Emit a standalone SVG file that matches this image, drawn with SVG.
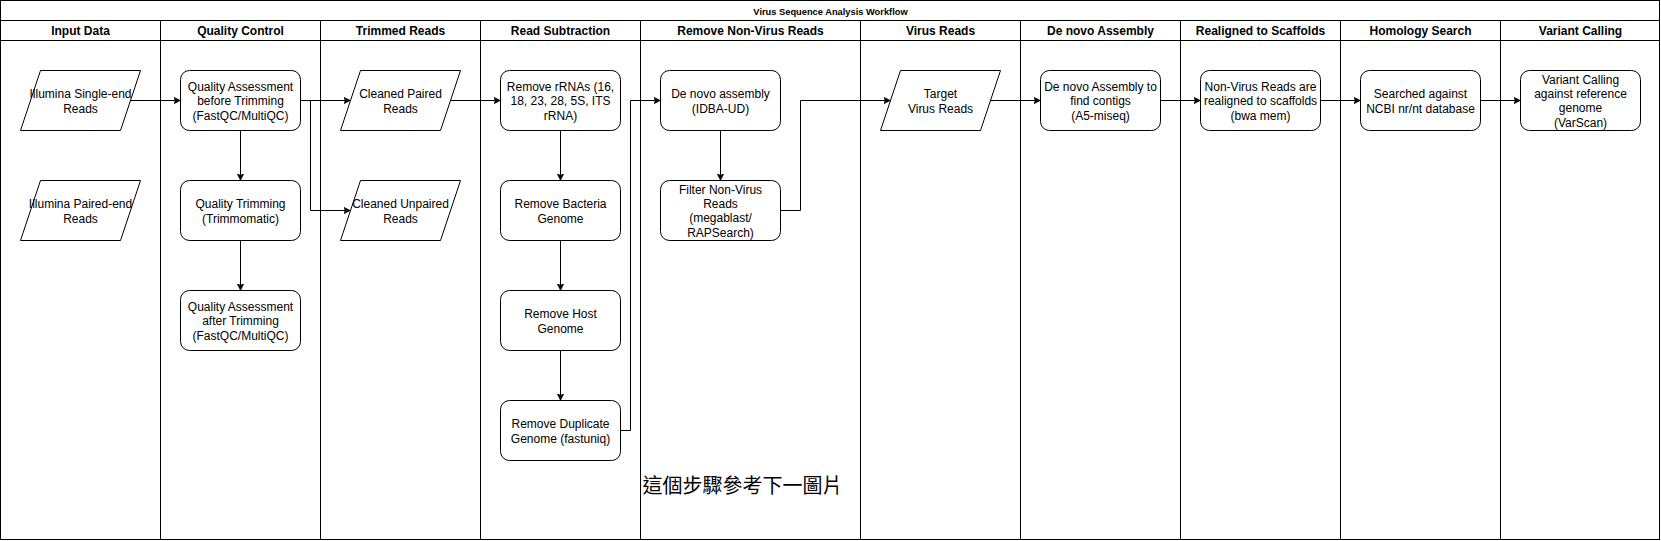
<svg xmlns="http://www.w3.org/2000/svg" width="1661" height="541" viewBox="0 0 1661 541">
<defs>
<style>
.ln{fill:none;stroke:#000;stroke-width:1}
.box{fill:#fff;stroke:#000;stroke-width:1}
.t{font-family:"Liberation Sans",Arial,Helvetica,sans-serif;font-size:12px;fill:#000;text-anchor:middle}
.h{font-family:"Liberation Sans",Arial,Helvetica,sans-serif;font-size:12px;font-weight:bold;fill:#000;text-anchor:middle}
.title{font-family:"Liberation Sans",Arial,Helvetica,sans-serif;font-size:9.3px;font-weight:bold;fill:#000;text-anchor:middle}
.cjk{font-family:"Liberation Sans","Noto Sans CJK TC",sans-serif;font-size:20px;fill:#000}
.edge{fill:none;stroke:#000;stroke-width:1;marker-end:url(#arr)}
</style>
<marker id="arr" viewBox="0 0 8 8" markerWidth="8" markerHeight="8" refX="7" refY="4" orient="auto" markerUnits="userSpaceOnUse">
<path d="M0,0.5 L7,4 L0,7.5 L1.75,4 Z" fill="#000" stroke="#000" stroke-width="0.5"/>
</marker>
</defs>
<g transform="translate(0.5,0.5)">
<g id="pool">
<rect x="0" y="0" width="1659" height="539" fill="#fff" stroke="#000"/>
<line class="ln" x1="0" y1="20" x2="1659" y2="20"/>
<line class="ln" x1="0" y1="40" x2="1659" y2="40"/>
<text class="title" x="830" y="14.5">Virus Sequence Analysis Workflow</text>
</g>
<g id="lanes">
<line class="ln" x1="160" y1="20" x2="160" y2="539"/>
<line class="ln" x1="320" y1="20" x2="320" y2="539"/>
<line class="ln" x1="480" y1="20" x2="480" y2="539"/>
<line class="ln" x1="640" y1="20" x2="640" y2="539"/>
<line class="ln" x1="860" y1="20" x2="860" y2="539"/>
<line class="ln" x1="1020" y1="20" x2="1020" y2="539"/>
<line class="ln" x1="1180" y1="20" x2="1180" y2="539"/>
<line class="ln" x1="1340" y1="20" x2="1340" y2="539"/>
<line class="ln" x1="1500" y1="20" x2="1500" y2="539"/>
<text class="h" x="80" y="34.5">Input Data</text>
<text class="h" x="240" y="34.5">Quality Control</text>
<text class="h" x="400" y="34.5">Trimmed Reads</text>
<text class="h" x="560" y="34.5">Read Subtraction</text>
<text class="h" x="750" y="34.5">Remove Non-Virus Reads</text>
<text class="h" x="940" y="34.5">Virus Reads</text>
<text class="h" x="1100" y="34.5">De novo Assembly</text>
<text class="h" x="1260" y="34.5">Realigned to Scaffolds</text>
<text class="h" x="1420" y="34.5">Homology Search</text>
<text class="h" x="1580" y="34.5">Variant Calling</text>
</g>
<g id="connectors">
<path class="edge" d="M129,100 L180,100"/>
<path class="edge" d="M240,130 L240,180"/>
<path class="edge" d="M240,240 L240,290"/>
<path class="edge" d="M300,100 L350,100"/>
<path class="edge" d="M300,100 L310,100 L310,210 L350,210"/>
<path class="edge" d="M449,100 L500,100"/>
<path class="edge" d="M560,130 L560,180"/>
<path class="edge" d="M560,240 L560,290"/>
<path class="edge" d="M560,350 L560,400"/>
<path class="edge" d="M620,430 L630,430 L630,100 L660,100"/>
<path class="edge" d="M720,130 L720,180"/>
<path class="edge" d="M780,210 L800,210 L800,100 L890,100"/>
<path class="edge" d="M989,100 L1040,100"/>
<path class="edge" d="M1160,100 L1200,100"/>
<path class="edge" d="M1320,100 L1360,100"/>
<path class="edge" d="M1480,100 L1520,100"/>
</g>
<g id="n-illumina-single">
<polygon class="box" points="40,70 140,70 120,130 20,130"/>
<text class="t" x="80" y="97.6">Illumina Single-end</text>
<text class="t" x="80" y="112">Reads</text>
</g>
<g id="n-illumina-paired">
<polygon class="box" points="40,180 140,180 120,240 20,240"/>
<text class="t" x="80" y="207.6">Illumina Paired-end</text>
<text class="t" x="80" y="222">Reads</text>
</g>
<g id="n-qa-before">
<rect class="box" x="180" y="70" width="120" height="60" rx="9"/>
<text class="t" x="240" y="90.2">Quality Assessment</text>
<text class="t" x="240" y="104.6">before Trimming</text>
<text class="t" x="240" y="119">(FastQC/MultiQC)</text>
</g>
<g id="n-trimming">
<rect class="box" x="180" y="180" width="120" height="60" rx="9"/>
<text class="t" x="240" y="207.6">Quality Trimming</text>
<text class="t" x="240" y="222">(Trimmomatic)</text>
</g>
<g id="n-qa-after">
<rect class="box" x="180" y="290" width="120" height="60" rx="9"/>
<text class="t" x="240" y="310.2">Quality Assessment</text>
<text class="t" x="240" y="324.6">after Trimming</text>
<text class="t" x="240" y="339">(FastQC/MultiQC)</text>
</g>
<g id="n-cleaned-paired">
<polygon class="box" points="360,70 460,70 440,130 340,130"/>
<text class="t" x="400" y="97.6">Cleaned Paired</text>
<text class="t" x="400" y="112">Reads</text>
</g>
<g id="n-cleaned-unpaired">
<polygon class="box" points="360,180 460,180 440,240 340,240"/>
<text class="t" x="400" y="207.6">Cleaned Unpaired</text>
<text class="t" x="400" y="222">Reads</text>
</g>
<g id="n-rrna">
<rect class="box" x="500" y="70" width="120" height="60" rx="9"/>
<text class="t" x="560" y="90.2">Remove rRNAs (16,</text>
<text class="t" x="560" y="104.6">18, 23, 28, 5S, ITS</text>
<text class="t" x="560" y="119">rRNA)</text>
</g>
<g id="n-bacteria">
<rect class="box" x="500" y="180" width="120" height="60" rx="9"/>
<text class="t" x="560" y="207.6">Remove Bacteria</text>
<text class="t" x="560" y="222">Genome</text>
</g>
<g id="n-host">
<rect class="box" x="500" y="290" width="120" height="60" rx="9"/>
<text class="t" x="560" y="317.6">Remove Host</text>
<text class="t" x="560" y="332">Genome</text>
</g>
<g id="n-duplicate">
<rect class="box" x="500" y="400" width="120" height="60" rx="9"/>
<text class="t" x="560" y="427.6">Remove Duplicate</text>
<text class="t" x="560" y="442">Genome (fastuniq)</text>
</g>
<g id="n-idba">
<rect class="box" x="660" y="70" width="120" height="60" rx="9"/>
<text class="t" x="720" y="97.6">De novo assembly</text>
<text class="t" x="720" y="112">(IDBA-UD)</text>
</g>
<g id="n-filter">
<rect class="box" x="660" y="180" width="120" height="60" rx="9"/>
<text class="t" x="720" y="193">Filter Non-Virus</text>
<text class="t" x="720" y="207.4">Reads</text>
<text class="t" x="720" y="221.8">(megablast/</text>
<text class="t" x="720" y="236.2">RAPSearch)</text>
</g>
<g id="n-target">
<polygon class="box" points="900,70 1000,70 980,130 880,130"/>
<text class="t" x="940" y="97.6">Target</text>
<text class="t" x="940" y="112">Virus Reads</text>
</g>
<g id="n-a5">
<rect class="box" x="1040" y="70" width="120" height="60" rx="9"/>
<text class="t" x="1100" y="90.2">De novo Assembly to</text>
<text class="t" x="1100" y="104.6">find contigs</text>
<text class="t" x="1100" y="119">(A5-miseq)</text>
</g>
<g id="n-bwa">
<rect class="box" x="1200" y="70" width="120" height="60" rx="9"/>
<text class="t" x="1260" y="90.2">Non-Virus Reads are</text>
<text class="t" x="1260" y="104.6">realigned to scaffolds</text>
<text class="t" x="1260" y="119">(bwa mem)</text>
</g>
<g id="n-ncbi">
<rect class="box" x="1360" y="70" width="120" height="60" rx="9"/>
<text class="t" x="1420" y="97.6">Searched against</text>
<text class="t" x="1420" y="112">NCBI nr/nt database</text>
</g>
<g id="n-varscan">
<rect class="box" x="1520" y="70" width="120" height="60" rx="9"/>
<text class="t" x="1580" y="83">Variant Calling</text>
<text class="t" x="1580" y="97.4">against reference</text>
<text class="t" x="1580" y="111.8">genome</text>
<text class="t" x="1580" y="126.2">(VarScan)</text>
</g>
<g id="n-note">
<text class="cjk" x="642" y="492">這個步驟參考下一圖片</text>
</g>
</g>
</svg>
